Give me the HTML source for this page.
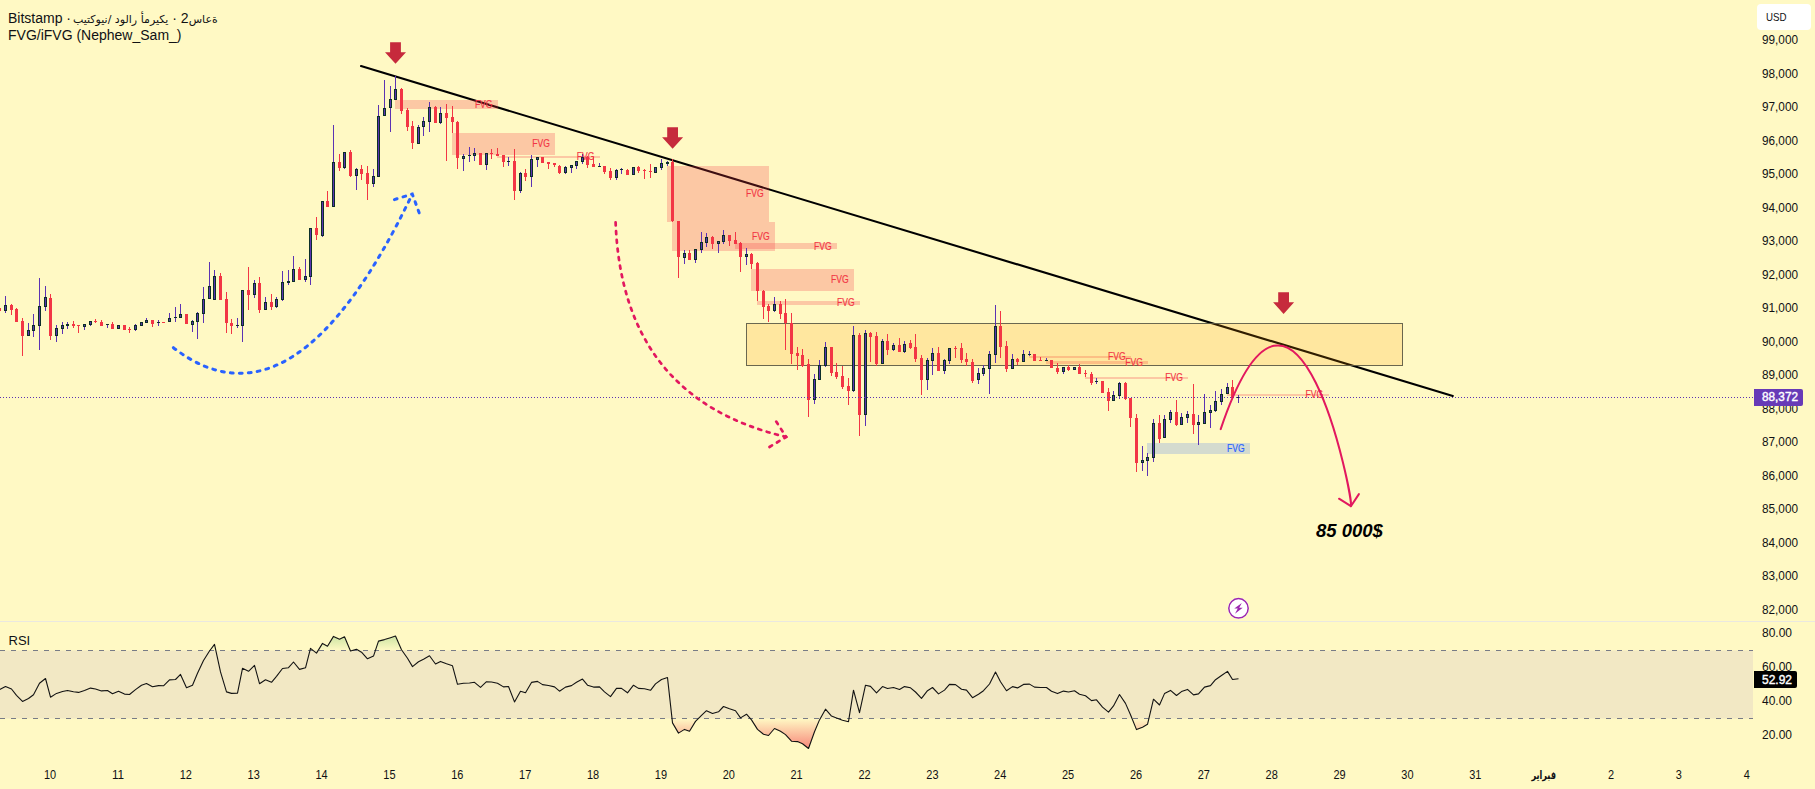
<!DOCTYPE html>
<html lang="en"><head><meta charset="utf-8"><title>Chart</title>
<style>html,body{margin:0;padding:0;background:#fff9c4;overflow:hidden}body{width:1815px;height:789px;position:relative;font-family:"Liberation Sans","DejaVu Sans",sans-serif}.ttl{position:absolute;left:8px;font-size:14px;line-height:17px;height:17px;color:#101114;white-space:nowrap}.ar{unicode-bidi:bidi-override;direction:ltr;font-family:"DejaVu Sans",sans-serif;font-size:11px}</style>
</head><body>
<svg width="1815" height="789" viewBox="0 0 1815 789" style="display:block;position:absolute;left:0;top:0">
<defs>
<linearGradient id="gg" gradientUnits="userSpaceOnUse" x1="0" y1="599.5" x2="0" y2="650.5"><stop offset="0" stop-color="#4caf50" stop-opacity="1"/><stop offset="1" stop-color="#4caf50" stop-opacity="0"/></linearGradient>
<linearGradient id="rg" gradientUnits="userSpaceOnUse" x1="0" y1="718.5" x2="0" y2="769.5"><stop offset="0" stop-color="#f23645" stop-opacity="0"/><stop offset="1" stop-color="#f23645" stop-opacity="1"/></linearGradient>
<clipPath id="pane"><rect x="0" y="0" width="1753" height="621"/></clipPath>
</defs>
<rect width="1815" height="789" fill="#fff9c4"/>
<g clip-path="url(#pane)">
<line x1="361" y1="66.1" x2="1452.8" y2="395.9" stroke="#000" stroke-width="2.1" stroke-linecap="round"/>
<g shape-rendering="crispEdges">
<rect x="395.2" y="100.0" width="102.6" height="9.0" fill="#f23645" fill-opacity="0.25"/>
<rect x="452.2" y="133.3" width="102.8" height="21.2" fill="#f23645" fill-opacity="0.25"/>
<rect x="497.3" y="155.9" width="102.6" height="1.9" fill="#f23645" fill-opacity="0.25"/>
<rect x="667.1" y="166.1" width="101.9" height="55.6" fill="#f23645" fill-opacity="0.25"/>
<rect x="672.1" y="221.7" width="102.9" height="29.0" fill="#f23645" fill-opacity="0.25"/>
<rect x="735.2" y="243.2" width="101.8" height="5.5" fill="#f23645" fill-opacity="0.25"/>
<rect x="751.1" y="269.0" width="103.0" height="21.8" fill="#f23645" fill-opacity="0.25"/>
<rect x="757.1" y="301.1" width="103.0" height="3.5" fill="#f23645" fill-opacity="0.25"/>
<rect x="1029.0" y="356.1" width="102.1" height="1.7" fill="#f23645" fill-opacity="0.25"/>
<rect x="1046.1" y="361.4" width="101.9" height="2.3" fill="#f23645" fill-opacity="0.25"/>
<rect x="1085.2" y="377.0" width="102.7" height="1.7" fill="#f23645" fill-opacity="0.25"/>
<rect x="1227.1" y="394.1" width="101.9" height="1.7" fill="#f23645" fill-opacity="0.25"/>
<rect x="1147" y="443" width="103" height="11" fill="#2962ff" fill-opacity="0.2"/>
</g>
<rect x="746.5" y="323.5" width="656" height="42" fill="#ff9800" fill-opacity="0.19" stroke="#5a5844" stroke-opacity="0.9" stroke-width="1" shape-rendering="crispEdges"/>
<g shape-rendering="crispEdges">
<rect x="-1" y="308" width="1" height="3" fill="#f23645"/>
<rect x="-2" y="308" width="3" height="3" fill="#f23645"/>
<rect x="5" y="296" width="1" height="17" fill="#5b33b3"/>
<rect x="4" y="305" width="3" height="6" fill="#0c2f2a"/>
<rect x="5" y="306" width="1" height="4" fill="#5a34b0"/>
<rect x="11" y="304" width="1" height="11" fill="#f23645"/>
<rect x="10" y="305" width="3" height="5" fill="#f23645"/>
<rect x="16" y="308" width="1" height="14" fill="#f23645"/>
<rect x="15" y="309" width="3" height="13" fill="#f23645"/>
<rect x="22" y="318" width="1" height="38" fill="#f23645"/>
<rect x="21" y="321" width="3" height="15" fill="#f23645"/>
<rect x="28" y="323" width="1" height="13" fill="#5b33b3"/>
<rect x="27" y="330" width="3" height="6" fill="#0c2f2a"/>
<rect x="28" y="331" width="1" height="4" fill="#5a34b0"/>
<rect x="33" y="314" width="1" height="23" fill="#5b33b3"/>
<rect x="32" y="325" width="3" height="6" fill="#0c2f2a"/>
<rect x="33" y="326" width="1" height="4" fill="#5a34b0"/>
<rect x="39" y="278" width="1" height="72" fill="#5b33b3"/>
<rect x="38" y="306" width="3" height="20" fill="#0c2f2a"/>
<rect x="39" y="307" width="1" height="18" fill="#5a34b0"/>
<rect x="45" y="286" width="1" height="25" fill="#5b33b3"/>
<rect x="44" y="297" width="3" height="10" fill="#0c2f2a"/>
<rect x="45" y="298" width="1" height="8" fill="#5a34b0"/>
<rect x="50" y="294" width="1" height="46" fill="#f23645"/>
<rect x="49" y="298" width="3" height="38" fill="#f23645"/>
<rect x="56" y="325" width="1" height="17" fill="#5b33b3"/>
<rect x="55" y="328" width="3" height="8" fill="#0c2f2a"/>
<rect x="56" y="329" width="1" height="6" fill="#5a34b0"/>
<rect x="62" y="322" width="1" height="12" fill="#5b33b3"/>
<rect x="61" y="325" width="3" height="4" fill="#0c2f2a"/>
<rect x="62" y="326" width="1" height="2" fill="#5a34b0"/>
<rect x="67" y="322" width="1" height="7" fill="#5b33b3"/>
<rect x="66" y="324" width="3" height="2" fill="#0c2f2a"/>
<rect x="73" y="321" width="1" height="7" fill="#f23645"/>
<rect x="72" y="324" width="3" height="2" fill="#f23645"/>
<rect x="78" y="325" width="1" height="8" fill="#f23645"/>
<rect x="77" y="325" width="3" height="1" fill="#f23645"/>
<rect x="84" y="324" width="1" height="6" fill="#5b33b3"/>
<rect x="83" y="324" width="3" height="3" fill="#0c2f2a"/>
<rect x="84" y="325" width="1" height="1" fill="#5a34b0"/>
<rect x="90" y="321" width="1" height="5" fill="#5b33b3"/>
<rect x="89" y="321" width="3" height="4" fill="#0c2f2a"/>
<rect x="90" y="322" width="1" height="2" fill="#5a34b0"/>
<rect x="95" y="319" width="1" height="4" fill="#f23645"/>
<rect x="94" y="321" width="3" height="1" fill="#f23645"/>
<rect x="101" y="320" width="1" height="6" fill="#f23645"/>
<rect x="100" y="322" width="3" height="4" fill="#f23645"/>
<rect x="107" y="324" width="1" height="4" fill="#5b33b3"/>
<rect x="106" y="324" width="3" height="1" fill="#0c2f2a"/>
<rect x="112" y="322" width="1" height="7" fill="#f23645"/>
<rect x="111" y="324" width="3" height="5" fill="#f23645"/>
<rect x="118" y="325" width="1" height="4" fill="#5b33b3"/>
<rect x="117" y="325" width="3" height="4" fill="#0c2f2a"/>
<rect x="118" y="326" width="1" height="2" fill="#5a34b0"/>
<rect x="124" y="325" width="1" height="5" fill="#f23645"/>
<rect x="123" y="325" width="3" height="5" fill="#f23645"/>
<rect x="129" y="327" width="1" height="6" fill="#f23645"/>
<rect x="128" y="329" width="3" height="1" fill="#f23645"/>
<rect x="135" y="324" width="1" height="7" fill="#5b33b3"/>
<rect x="134" y="325" width="3" height="5" fill="#0c2f2a"/>
<rect x="135" y="326" width="1" height="3" fill="#5a34b0"/>
<rect x="141" y="322" width="1" height="4" fill="#5b33b3"/>
<rect x="140" y="322" width="3" height="4" fill="#0c2f2a"/>
<rect x="141" y="323" width="1" height="2" fill="#5a34b0"/>
<rect x="146" y="318" width="1" height="5" fill="#5b33b3"/>
<rect x="145" y="320" width="3" height="3" fill="#0c2f2a"/>
<rect x="146" y="321" width="1" height="1" fill="#5a34b0"/>
<rect x="152" y="320" width="1" height="7" fill="#f23645"/>
<rect x="151" y="320" width="3" height="4" fill="#f23645"/>
<rect x="158" y="320" width="1" height="6" fill="#5b33b3"/>
<rect x="157" y="322" width="3" height="1" fill="#0c2f2a"/>
<rect x="163" y="322" width="1" height="1" fill="#f23645"/>
<rect x="162" y="322" width="3" height="1" fill="#f23645"/>
<rect x="169" y="313" width="1" height="9" fill="#5b33b3"/>
<rect x="168" y="318" width="3" height="4" fill="#0c2f2a"/>
<rect x="169" y="319" width="1" height="2" fill="#5a34b0"/>
<rect x="175" y="307" width="1" height="15" fill="#5b33b3"/>
<rect x="174" y="317" width="3" height="1" fill="#0c2f2a"/>
<rect x="180" y="304" width="1" height="14" fill="#5b33b3"/>
<rect x="179" y="314" width="3" height="4" fill="#0c2f2a"/>
<rect x="180" y="315" width="1" height="2" fill="#5a34b0"/>
<rect x="186" y="314" width="1" height="10" fill="#f23645"/>
<rect x="185" y="314" width="3" height="10" fill="#f23645"/>
<rect x="192" y="320" width="1" height="12" fill="#5b33b3"/>
<rect x="191" y="321" width="3" height="4" fill="#0c2f2a"/>
<rect x="192" y="322" width="1" height="2" fill="#5a34b0"/>
<rect x="197" y="312" width="1" height="27" fill="#5b33b3"/>
<rect x="196" y="313" width="3" height="9" fill="#0c2f2a"/>
<rect x="197" y="314" width="1" height="7" fill="#5a34b0"/>
<rect x="203" y="287" width="1" height="36" fill="#5b33b3"/>
<rect x="202" y="299" width="3" height="15" fill="#0c2f2a"/>
<rect x="203" y="300" width="1" height="13" fill="#5a34b0"/>
<rect x="209" y="262" width="1" height="37" fill="#5b33b3"/>
<rect x="208" y="286" width="3" height="13" fill="#0c2f2a"/>
<rect x="209" y="287" width="1" height="11" fill="#5a34b0"/>
<rect x="214" y="270" width="1" height="30" fill="#5b33b3"/>
<rect x="213" y="276" width="3" height="24" fill="#0c2f2a"/>
<rect x="214" y="277" width="1" height="22" fill="#5a34b0"/>
<rect x="220" y="273" width="1" height="27" fill="#f23645"/>
<rect x="219" y="276" width="3" height="24" fill="#f23645"/>
<rect x="226" y="292" width="1" height="41" fill="#f23645"/>
<rect x="225" y="299" width="3" height="24" fill="#f23645"/>
<rect x="231" y="319" width="1" height="15" fill="#f23645"/>
<rect x="230" y="323" width="3" height="3" fill="#f23645"/>
<rect x="237" y="318" width="1" height="10" fill="#5b33b3"/>
<rect x="236" y="325" width="3" height="1" fill="#0c2f2a"/>
<rect x="242" y="290" width="1" height="52" fill="#5b33b3"/>
<rect x="241" y="290" width="3" height="36" fill="#0c2f2a"/>
<rect x="242" y="291" width="1" height="34" fill="#5a34b0"/>
<rect x="248" y="267" width="1" height="43" fill="#f23645"/>
<rect x="247" y="290" width="3" height="5" fill="#f23645"/>
<rect x="254" y="280" width="1" height="18" fill="#5b33b3"/>
<rect x="253" y="283" width="3" height="12" fill="#0c2f2a"/>
<rect x="254" y="284" width="1" height="10" fill="#5a34b0"/>
<rect x="259" y="277" width="1" height="36" fill="#f23645"/>
<rect x="258" y="283" width="3" height="27" fill="#f23645"/>
<rect x="265" y="297" width="1" height="13" fill="#5b33b3"/>
<rect x="264" y="302" width="3" height="8" fill="#0c2f2a"/>
<rect x="265" y="303" width="1" height="6" fill="#5a34b0"/>
<rect x="271" y="294" width="1" height="16" fill="#f23645"/>
<rect x="270" y="302" width="3" height="5" fill="#f23645"/>
<rect x="276" y="297" width="1" height="11" fill="#5b33b3"/>
<rect x="275" y="299" width="3" height="8" fill="#0c2f2a"/>
<rect x="276" y="300" width="1" height="6" fill="#5a34b0"/>
<rect x="282" y="271" width="1" height="30" fill="#5b33b3"/>
<rect x="281" y="282" width="3" height="18" fill="#0c2f2a"/>
<rect x="282" y="283" width="1" height="16" fill="#5a34b0"/>
<rect x="288" y="270" width="1" height="15" fill="#5b33b3"/>
<rect x="287" y="281" width="3" height="2" fill="#0c2f2a"/>
<rect x="293" y="256" width="1" height="26" fill="#5b33b3"/>
<rect x="292" y="269" width="3" height="13" fill="#0c2f2a"/>
<rect x="293" y="270" width="1" height="11" fill="#5a34b0"/>
<rect x="299" y="267" width="1" height="13" fill="#f23645"/>
<rect x="298" y="269" width="3" height="11" fill="#f23645"/>
<rect x="305" y="259" width="1" height="23" fill="#5b33b3"/>
<rect x="304" y="276" width="3" height="4" fill="#0c2f2a"/>
<rect x="305" y="277" width="1" height="2" fill="#5a34b0"/>
<rect x="310" y="228" width="1" height="57" fill="#5b33b3"/>
<rect x="309" y="228" width="3" height="49" fill="#0c2f2a"/>
<rect x="310" y="229" width="1" height="47" fill="#5a34b0"/>
<rect x="316" y="217" width="1" height="23" fill="#f23645"/>
<rect x="315" y="228" width="3" height="7" fill="#f23645"/>
<rect x="322" y="201" width="1" height="36" fill="#5b33b3"/>
<rect x="321" y="201" width="3" height="35" fill="#0c2f2a"/>
<rect x="322" y="202" width="1" height="33" fill="#5a34b0"/>
<rect x="327" y="191" width="1" height="16" fill="#f23645"/>
<rect x="326" y="201" width="3" height="6" fill="#f23645"/>
<rect x="333" y="125" width="1" height="82" fill="#5b33b3"/>
<rect x="332" y="162" width="3" height="45" fill="#0c2f2a"/>
<rect x="333" y="163" width="1" height="43" fill="#5a34b0"/>
<rect x="339" y="154" width="1" height="17" fill="#f23645"/>
<rect x="338" y="162" width="3" height="6" fill="#f23645"/>
<rect x="344" y="152" width="1" height="17" fill="#5b33b3"/>
<rect x="343" y="152" width="3" height="16" fill="#0c2f2a"/>
<rect x="344" y="153" width="1" height="14" fill="#5a34b0"/>
<rect x="350" y="150" width="1" height="27" fill="#f23645"/>
<rect x="349" y="152" width="3" height="24" fill="#f23645"/>
<rect x="356" y="168" width="1" height="22" fill="#5b33b3"/>
<rect x="355" y="169" width="3" height="7" fill="#0c2f2a"/>
<rect x="356" y="170" width="1" height="5" fill="#5a34b0"/>
<rect x="361" y="165" width="1" height="15" fill="#f23645"/>
<rect x="360" y="169" width="3" height="5" fill="#f23645"/>
<rect x="367" y="166" width="1" height="34" fill="#f23645"/>
<rect x="366" y="173" width="3" height="11" fill="#f23645"/>
<rect x="373" y="169" width="1" height="18" fill="#5b33b3"/>
<rect x="372" y="176" width="3" height="8" fill="#0c2f2a"/>
<rect x="373" y="177" width="1" height="6" fill="#5a34b0"/>
<rect x="378" y="105" width="1" height="72" fill="#5b33b3"/>
<rect x="377" y="116" width="3" height="61" fill="#0c2f2a"/>
<rect x="378" y="117" width="1" height="59" fill="#5a34b0"/>
<rect x="384" y="80" width="1" height="36" fill="#5b33b3"/>
<rect x="383" y="108" width="3" height="8" fill="#0c2f2a"/>
<rect x="384" y="109" width="1" height="6" fill="#5a34b0"/>
<rect x="390" y="86" width="1" height="46" fill="#5b33b3"/>
<rect x="389" y="99" width="3" height="9" fill="#0c2f2a"/>
<rect x="390" y="100" width="1" height="7" fill="#5a34b0"/>
<rect x="395" y="76" width="1" height="24" fill="#5b33b3"/>
<rect x="394" y="89" width="3" height="11" fill="#0c2f2a"/>
<rect x="395" y="90" width="1" height="9" fill="#5a34b0"/>
<rect x="401" y="88" width="1" height="26" fill="#f23645"/>
<rect x="400" y="89" width="3" height="22" fill="#f23645"/>
<rect x="407" y="108" width="1" height="23" fill="#f23645"/>
<rect x="406" y="110" width="3" height="17" fill="#f23645"/>
<rect x="412" y="121" width="1" height="28" fill="#f23645"/>
<rect x="411" y="126" width="3" height="17" fill="#f23645"/>
<rect x="418" y="125" width="1" height="19" fill="#5b33b3"/>
<rect x="417" y="127" width="3" height="17" fill="#0c2f2a"/>
<rect x="418" y="128" width="1" height="15" fill="#5a34b0"/>
<rect x="423" y="117" width="1" height="19" fill="#5b33b3"/>
<rect x="422" y="121" width="3" height="6" fill="#0c2f2a"/>
<rect x="423" y="122" width="1" height="4" fill="#5a34b0"/>
<rect x="429" y="102" width="1" height="30" fill="#5b33b3"/>
<rect x="428" y="107" width="3" height="15" fill="#0c2f2a"/>
<rect x="429" y="108" width="1" height="13" fill="#5a34b0"/>
<rect x="435" y="106" width="1" height="17" fill="#f23645"/>
<rect x="434" y="107" width="3" height="16" fill="#f23645"/>
<rect x="440" y="107" width="1" height="17" fill="#5b33b3"/>
<rect x="439" y="113" width="3" height="10" fill="#0c2f2a"/>
<rect x="440" y="114" width="1" height="8" fill="#5a34b0"/>
<rect x="446" y="104" width="1" height="57" fill="#f23645"/>
<rect x="445" y="113" width="3" height="5" fill="#f23645"/>
<rect x="452" y="106" width="1" height="27" fill="#f23645"/>
<rect x="451" y="117" width="3" height="5" fill="#f23645"/>
<rect x="457" y="121" width="1" height="48" fill="#f23645"/>
<rect x="456" y="122" width="3" height="36" fill="#f23645"/>
<rect x="463" y="154" width="1" height="17" fill="#5b33b3"/>
<rect x="462" y="156" width="3" height="3" fill="#0c2f2a"/>
<rect x="463" y="157" width="1" height="1" fill="#5a34b0"/>
<rect x="469" y="147" width="1" height="15" fill="#5b33b3"/>
<rect x="468" y="155" width="3" height="1" fill="#0c2f2a"/>
<rect x="474" y="148" width="1" height="13" fill="#5b33b3"/>
<rect x="473" y="153" width="3" height="3" fill="#0c2f2a"/>
<rect x="474" y="154" width="1" height="1" fill="#5a34b0"/>
<rect x="480" y="153" width="1" height="12" fill="#f23645"/>
<rect x="479" y="153" width="3" height="12" fill="#f23645"/>
<rect x="486" y="153" width="1" height="17" fill="#5b33b3"/>
<rect x="485" y="153" width="3" height="12" fill="#0c2f2a"/>
<rect x="486" y="154" width="1" height="10" fill="#5a34b0"/>
<rect x="491" y="149" width="1" height="10" fill="#f23645"/>
<rect x="490" y="153" width="3" height="1" fill="#f23645"/>
<rect x="497" y="148" width="1" height="8" fill="#f23645"/>
<rect x="496" y="154" width="3" height="2" fill="#f23645"/>
<rect x="503" y="155" width="1" height="12" fill="#f23645"/>
<rect x="502" y="155" width="3" height="7" fill="#f23645"/>
<rect x="508" y="157" width="1" height="9" fill="#5b33b3"/>
<rect x="507" y="161" width="3" height="1" fill="#0c2f2a"/>
<rect x="514" y="149" width="1" height="51" fill="#f23645"/>
<rect x="513" y="161" width="3" height="30" fill="#f23645"/>
<rect x="520" y="172" width="1" height="21" fill="#5b33b3"/>
<rect x="519" y="173" width="3" height="18" fill="#0c2f2a"/>
<rect x="520" y="174" width="1" height="16" fill="#5a34b0"/>
<rect x="525" y="169" width="1" height="12" fill="#f23645"/>
<rect x="524" y="173" width="3" height="4" fill="#f23645"/>
<rect x="531" y="155" width="1" height="32" fill="#5b33b3"/>
<rect x="530" y="159" width="3" height="18" fill="#0c2f2a"/>
<rect x="531" y="160" width="1" height="16" fill="#5a34b0"/>
<rect x="537" y="157" width="1" height="10" fill="#5b33b3"/>
<rect x="536" y="157" width="3" height="3" fill="#0c2f2a"/>
<rect x="537" y="158" width="1" height="1" fill="#5a34b0"/>
<rect x="542" y="157" width="1" height="6" fill="#f23645"/>
<rect x="541" y="157" width="3" height="6" fill="#f23645"/>
<rect x="548" y="162" width="1" height="7" fill="#f23645"/>
<rect x="547" y="162" width="3" height="2" fill="#f23645"/>
<rect x="554" y="163" width="1" height="4" fill="#f23645"/>
<rect x="553" y="163" width="3" height="2" fill="#f23645"/>
<rect x="559" y="165" width="1" height="9" fill="#f23645"/>
<rect x="558" y="166" width="3" height="7" fill="#f23645"/>
<rect x="565" y="166" width="1" height="8" fill="#5b33b3"/>
<rect x="564" y="167" width="3" height="6" fill="#0c2f2a"/>
<rect x="565" y="168" width="1" height="4" fill="#5a34b0"/>
<rect x="571" y="165" width="1" height="8" fill="#5b33b3"/>
<rect x="570" y="165" width="3" height="3" fill="#0c2f2a"/>
<rect x="571" y="166" width="1" height="1" fill="#5a34b0"/>
<rect x="576" y="161" width="1" height="8" fill="#5b33b3"/>
<rect x="575" y="161" width="3" height="5" fill="#0c2f2a"/>
<rect x="576" y="162" width="1" height="3" fill="#5a34b0"/>
<rect x="582" y="154" width="1" height="10" fill="#5b33b3"/>
<rect x="581" y="157" width="3" height="5" fill="#0c2f2a"/>
<rect x="582" y="158" width="1" height="3" fill="#5a34b0"/>
<rect x="587" y="156" width="1" height="12" fill="#f23645"/>
<rect x="586" y="157" width="3" height="8" fill="#f23645"/>
<rect x="593" y="157" width="1" height="10" fill="#f23645"/>
<rect x="592" y="164" width="3" height="3" fill="#f23645"/>
<rect x="599" y="163" width="1" height="4" fill="#5b33b3"/>
<rect x="598" y="166" width="3" height="1" fill="#0c2f2a"/>
<rect x="604" y="166" width="1" height="8" fill="#f23645"/>
<rect x="603" y="166" width="3" height="6" fill="#f23645"/>
<rect x="610" y="168" width="1" height="12" fill="#f23645"/>
<rect x="609" y="171" width="3" height="7" fill="#f23645"/>
<rect x="616" y="169" width="1" height="11" fill="#5b33b3"/>
<rect x="615" y="170" width="3" height="8" fill="#0c2f2a"/>
<rect x="616" y="171" width="1" height="6" fill="#5a34b0"/>
<rect x="621" y="168" width="1" height="6" fill="#5b33b3"/>
<rect x="620" y="169" width="3" height="1" fill="#0c2f2a"/>
<rect x="627" y="169" width="1" height="6" fill="#f23645"/>
<rect x="626" y="170" width="3" height="5" fill="#f23645"/>
<rect x="633" y="167" width="1" height="8" fill="#5b33b3"/>
<rect x="632" y="167" width="3" height="8" fill="#0c2f2a"/>
<rect x="633" y="168" width="1" height="6" fill="#5a34b0"/>
<rect x="638" y="166" width="1" height="7" fill="#f23645"/>
<rect x="637" y="167" width="3" height="4" fill="#f23645"/>
<rect x="644" y="169" width="1" height="10" fill="#f23645"/>
<rect x="643" y="170" width="3" height="1" fill="#f23645"/>
<rect x="650" y="164" width="1" height="14" fill="#f23645"/>
<rect x="649" y="171" width="3" height="1" fill="#f23645"/>
<rect x="655" y="167" width="1" height="6" fill="#5b33b3"/>
<rect x="654" y="167" width="3" height="6" fill="#0c2f2a"/>
<rect x="655" y="168" width="1" height="4" fill="#5a34b0"/>
<rect x="661" y="159" width="1" height="11" fill="#5b33b3"/>
<rect x="660" y="163" width="3" height="5" fill="#0c2f2a"/>
<rect x="661" y="164" width="1" height="3" fill="#5a34b0"/>
<rect x="667" y="161" width="1" height="5" fill="#5b33b3"/>
<rect x="666" y="162" width="3" height="2" fill="#0c2f2a"/>
<rect x="672" y="159" width="1" height="63" fill="#f23645"/>
<rect x="671" y="162" width="3" height="59" fill="#f23645"/>
<rect x="678" y="221" width="1" height="57" fill="#f23645"/>
<rect x="677" y="221" width="3" height="36" fill="#f23645"/>
<rect x="684" y="250" width="1" height="14" fill="#5b33b3"/>
<rect x="683" y="253" width="3" height="5" fill="#0c2f2a"/>
<rect x="684" y="254" width="1" height="3" fill="#5a34b0"/>
<rect x="689" y="250" width="1" height="10" fill="#f23645"/>
<rect x="688" y="253" width="3" height="7" fill="#f23645"/>
<rect x="695" y="249" width="1" height="14" fill="#5b33b3"/>
<rect x="694" y="249" width="3" height="11" fill="#0c2f2a"/>
<rect x="695" y="250" width="1" height="9" fill="#5a34b0"/>
<rect x="701" y="232" width="1" height="21" fill="#5b33b3"/>
<rect x="700" y="242" width="3" height="8" fill="#0c2f2a"/>
<rect x="701" y="243" width="1" height="6" fill="#5a34b0"/>
<rect x="706" y="233" width="1" height="14" fill="#5b33b3"/>
<rect x="705" y="237" width="3" height="6" fill="#0c2f2a"/>
<rect x="706" y="238" width="1" height="4" fill="#5a34b0"/>
<rect x="712" y="236" width="1" height="13" fill="#f23645"/>
<rect x="711" y="237" width="3" height="7" fill="#f23645"/>
<rect x="718" y="241" width="1" height="12" fill="#5b33b3"/>
<rect x="717" y="241" width="3" height="3" fill="#0c2f2a"/>
<rect x="718" y="242" width="1" height="1" fill="#5a34b0"/>
<rect x="723" y="230" width="1" height="14" fill="#5b33b3"/>
<rect x="722" y="235" width="3" height="7" fill="#0c2f2a"/>
<rect x="723" y="236" width="1" height="5" fill="#5a34b0"/>
<rect x="729" y="235" width="1" height="11" fill="#f23645"/>
<rect x="728" y="235" width="3" height="6" fill="#f23645"/>
<rect x="735" y="232" width="1" height="12" fill="#f23645"/>
<rect x="734" y="240" width="3" height="4" fill="#f23645"/>
<rect x="740" y="242" width="1" height="30" fill="#f23645"/>
<rect x="739" y="243" width="3" height="14" fill="#f23645"/>
<rect x="746" y="248" width="1" height="17" fill="#5b33b3"/>
<rect x="745" y="254" width="3" height="3" fill="#0c2f2a"/>
<rect x="746" y="255" width="1" height="1" fill="#5a34b0"/>
<rect x="751" y="253" width="1" height="16" fill="#f23645"/>
<rect x="750" y="254" width="3" height="10" fill="#f23645"/>
<rect x="757" y="262" width="1" height="39" fill="#f23645"/>
<rect x="756" y="263" width="3" height="28" fill="#f23645"/>
<rect x="763" y="290" width="1" height="29" fill="#f23645"/>
<rect x="762" y="291" width="3" height="16" fill="#f23645"/>
<rect x="768" y="304" width="1" height="18" fill="#f23645"/>
<rect x="767" y="306" width="3" height="5" fill="#f23645"/>
<rect x="774" y="297" width="1" height="15" fill="#5b33b3"/>
<rect x="773" y="304" width="3" height="7" fill="#0c2f2a"/>
<rect x="774" y="305" width="1" height="5" fill="#5a34b0"/>
<rect x="780" y="301" width="1" height="18" fill="#f23645"/>
<rect x="779" y="304" width="3" height="10" fill="#f23645"/>
<rect x="785" y="299" width="1" height="51" fill="#f23645"/>
<rect x="784" y="313" width="3" height="10" fill="#f23645"/>
<rect x="791" y="313" width="1" height="51" fill="#f23645"/>
<rect x="790" y="323" width="3" height="31" fill="#f23645"/>
<rect x="797" y="347" width="1" height="23" fill="#f23645"/>
<rect x="796" y="353" width="3" height="3" fill="#f23645"/>
<rect x="802" y="349" width="1" height="18" fill="#f23645"/>
<rect x="801" y="355" width="3" height="11" fill="#f23645"/>
<rect x="808" y="359" width="1" height="58" fill="#f23645"/>
<rect x="807" y="364" width="3" height="36" fill="#f23645"/>
<rect x="814" y="374" width="1" height="30" fill="#5b33b3"/>
<rect x="813" y="379" width="3" height="21" fill="#0c2f2a"/>
<rect x="814" y="380" width="1" height="19" fill="#5a34b0"/>
<rect x="819" y="360" width="1" height="20" fill="#5b33b3"/>
<rect x="818" y="365" width="3" height="15" fill="#0c2f2a"/>
<rect x="819" y="366" width="1" height="13" fill="#5a34b0"/>
<rect x="825" y="342" width="1" height="25" fill="#5b33b3"/>
<rect x="824" y="347" width="3" height="19" fill="#0c2f2a"/>
<rect x="825" y="348" width="1" height="17" fill="#5a34b0"/>
<rect x="831" y="347" width="1" height="29" fill="#f23645"/>
<rect x="830" y="347" width="3" height="26" fill="#f23645"/>
<rect x="836" y="363" width="1" height="16" fill="#f23645"/>
<rect x="835" y="372" width="3" height="5" fill="#f23645"/>
<rect x="842" y="366" width="1" height="23" fill="#f23645"/>
<rect x="841" y="376" width="3" height="11" fill="#f23645"/>
<rect x="848" y="378" width="1" height="27" fill="#f23645"/>
<rect x="847" y="386" width="3" height="5" fill="#f23645"/>
<rect x="853" y="326" width="1" height="66" fill="#5b33b3"/>
<rect x="852" y="335" width="3" height="56" fill="#0c2f2a"/>
<rect x="853" y="336" width="1" height="54" fill="#5a34b0"/>
<rect x="859" y="333" width="1" height="103" fill="#f23645"/>
<rect x="858" y="335" width="3" height="80" fill="#f23645"/>
<rect x="865" y="330" width="1" height="96" fill="#5b33b3"/>
<rect x="864" y="333" width="3" height="82" fill="#0c2f2a"/>
<rect x="865" y="334" width="1" height="80" fill="#5a34b0"/>
<rect x="870" y="332" width="1" height="30" fill="#f23645"/>
<rect x="869" y="333" width="3" height="4" fill="#f23645"/>
<rect x="876" y="332" width="1" height="34" fill="#f23645"/>
<rect x="875" y="336" width="3" height="28" fill="#f23645"/>
<rect x="882" y="339" width="1" height="25" fill="#5b33b3"/>
<rect x="881" y="341" width="3" height="23" fill="#0c2f2a"/>
<rect x="882" y="342" width="1" height="21" fill="#5a34b0"/>
<rect x="887" y="334" width="1" height="21" fill="#f23645"/>
<rect x="886" y="341" width="3" height="9" fill="#f23645"/>
<rect x="893" y="343" width="1" height="8" fill="#5b33b3"/>
<rect x="892" y="345" width="3" height="5" fill="#0c2f2a"/>
<rect x="893" y="346" width="1" height="3" fill="#5a34b0"/>
<rect x="899" y="338" width="1" height="14" fill="#f23645"/>
<rect x="898" y="345" width="3" height="7" fill="#f23645"/>
<rect x="904" y="341" width="1" height="12" fill="#5b33b3"/>
<rect x="903" y="344" width="3" height="8" fill="#0c2f2a"/>
<rect x="904" y="345" width="1" height="6" fill="#5a34b0"/>
<rect x="910" y="340" width="1" height="9" fill="#f23645"/>
<rect x="909" y="343" width="3" height="5" fill="#f23645"/>
<rect x="915" y="334" width="1" height="28" fill="#f23645"/>
<rect x="914" y="347" width="3" height="12" fill="#f23645"/>
<rect x="921" y="355" width="1" height="40" fill="#f23645"/>
<rect x="920" y="358" width="3" height="22" fill="#f23645"/>
<rect x="927" y="358" width="1" height="32" fill="#5b33b3"/>
<rect x="926" y="360" width="3" height="20" fill="#0c2f2a"/>
<rect x="927" y="361" width="1" height="18" fill="#5a34b0"/>
<rect x="932" y="348" width="1" height="27" fill="#5b33b3"/>
<rect x="931" y="353" width="3" height="8" fill="#0c2f2a"/>
<rect x="932" y="354" width="1" height="6" fill="#5a34b0"/>
<rect x="938" y="347" width="1" height="24" fill="#f23645"/>
<rect x="937" y="353" width="3" height="18" fill="#f23645"/>
<rect x="944" y="359" width="1" height="15" fill="#5b33b3"/>
<rect x="943" y="360" width="3" height="11" fill="#0c2f2a"/>
<rect x="944" y="361" width="1" height="9" fill="#5a34b0"/>
<rect x="949" y="348" width="1" height="16" fill="#5b33b3"/>
<rect x="948" y="348" width="3" height="13" fill="#0c2f2a"/>
<rect x="949" y="349" width="1" height="11" fill="#5a34b0"/>
<rect x="955" y="346" width="1" height="12" fill="#f23645"/>
<rect x="954" y="348" width="3" height="1" fill="#f23645"/>
<rect x="961" y="343" width="1" height="20" fill="#f23645"/>
<rect x="960" y="348" width="3" height="12" fill="#f23645"/>
<rect x="966" y="353" width="1" height="13" fill="#f23645"/>
<rect x="965" y="359" width="3" height="3" fill="#f23645"/>
<rect x="972" y="359" width="1" height="24" fill="#f23645"/>
<rect x="971" y="362" width="3" height="19" fill="#f23645"/>
<rect x="978" y="368" width="1" height="16" fill="#5b33b3"/>
<rect x="977" y="373" width="3" height="7" fill="#0c2f2a"/>
<rect x="978" y="374" width="1" height="5" fill="#5a34b0"/>
<rect x="983" y="365" width="1" height="11" fill="#5b33b3"/>
<rect x="982" y="368" width="3" height="6" fill="#0c2f2a"/>
<rect x="983" y="369" width="1" height="4" fill="#5a34b0"/>
<rect x="989" y="351" width="1" height="43" fill="#5b33b3"/>
<rect x="988" y="354" width="3" height="15" fill="#0c2f2a"/>
<rect x="989" y="355" width="1" height="13" fill="#5a34b0"/>
<rect x="995" y="305" width="1" height="58" fill="#5b33b3"/>
<rect x="994" y="326" width="3" height="29" fill="#0c2f2a"/>
<rect x="995" y="327" width="1" height="27" fill="#5a34b0"/>
<rect x="1000" y="311" width="1" height="47" fill="#f23645"/>
<rect x="999" y="326" width="3" height="21" fill="#f23645"/>
<rect x="1006" y="341" width="1" height="31" fill="#f23645"/>
<rect x="1005" y="346" width="3" height="23" fill="#f23645"/>
<rect x="1012" y="354" width="1" height="15" fill="#5b33b3"/>
<rect x="1011" y="359" width="3" height="10" fill="#0c2f2a"/>
<rect x="1012" y="360" width="1" height="8" fill="#5a34b0"/>
<rect x="1017" y="358" width="1" height="7" fill="#f23645"/>
<rect x="1016" y="359" width="3" height="3" fill="#f23645"/>
<rect x="1023" y="350" width="1" height="12" fill="#5b33b3"/>
<rect x="1022" y="354" width="3" height="8" fill="#0c2f2a"/>
<rect x="1023" y="355" width="1" height="6" fill="#5a34b0"/>
<rect x="1029" y="351" width="1" height="5" fill="#5b33b3"/>
<rect x="1028" y="354" width="3" height="1" fill="#0c2f2a"/>
<rect x="1034" y="354" width="1" height="7" fill="#f23645"/>
<rect x="1033" y="354" width="3" height="7" fill="#f23645"/>
<rect x="1040" y="357" width="1" height="4" fill="#f23645"/>
<rect x="1039" y="360" width="3" height="1" fill="#f23645"/>
<rect x="1046" y="358" width="1" height="3" fill="#5b33b3"/>
<rect x="1045" y="360" width="3" height="1" fill="#0c2f2a"/>
<rect x="1051" y="360" width="1" height="8" fill="#f23645"/>
<rect x="1050" y="360" width="3" height="8" fill="#f23645"/>
<rect x="1057" y="363" width="1" height="11" fill="#f23645"/>
<rect x="1056" y="368" width="3" height="4" fill="#f23645"/>
<rect x="1063" y="367" width="1" height="7" fill="#5b33b3"/>
<rect x="1062" y="367" width="3" height="5" fill="#0c2f2a"/>
<rect x="1063" y="368" width="1" height="3" fill="#5a34b0"/>
<rect x="1068" y="365" width="1" height="6" fill="#f23645"/>
<rect x="1067" y="367" width="3" height="3" fill="#f23645"/>
<rect x="1074" y="367" width="1" height="3" fill="#5b33b3"/>
<rect x="1073" y="367" width="3" height="3" fill="#0c2f2a"/>
<rect x="1074" y="368" width="1" height="1" fill="#5a34b0"/>
<rect x="1079" y="364" width="1" height="10" fill="#f23645"/>
<rect x="1078" y="367" width="3" height="7" fill="#f23645"/>
<rect x="1085" y="370" width="1" height="7" fill="#f23645"/>
<rect x="1084" y="373" width="3" height="1" fill="#f23645"/>
<rect x="1091" y="372" width="1" height="13" fill="#f23645"/>
<rect x="1090" y="374" width="3" height="9" fill="#f23645"/>
<rect x="1096" y="378" width="1" height="6" fill="#5b33b3"/>
<rect x="1095" y="381" width="3" height="1" fill="#0c2f2a"/>
<rect x="1102" y="381" width="1" height="12" fill="#f23645"/>
<rect x="1101" y="381" width="3" height="12" fill="#f23645"/>
<rect x="1108" y="388" width="1" height="23" fill="#f23645"/>
<rect x="1107" y="392" width="3" height="9" fill="#f23645"/>
<rect x="1113" y="391" width="1" height="10" fill="#5b33b3"/>
<rect x="1112" y="395" width="3" height="6" fill="#0c2f2a"/>
<rect x="1113" y="396" width="1" height="4" fill="#5a34b0"/>
<rect x="1119" y="382" width="1" height="17" fill="#5b33b3"/>
<rect x="1118" y="383" width="3" height="13" fill="#0c2f2a"/>
<rect x="1119" y="384" width="1" height="11" fill="#5a34b0"/>
<rect x="1125" y="382" width="1" height="18" fill="#f23645"/>
<rect x="1124" y="383" width="3" height="16" fill="#f23645"/>
<rect x="1130" y="398" width="1" height="29" fill="#f23645"/>
<rect x="1129" y="398" width="3" height="20" fill="#f23645"/>
<rect x="1136" y="414" width="1" height="58" fill="#f23645"/>
<rect x="1135" y="418" width="3" height="45" fill="#f23645"/>
<rect x="1142" y="446" width="1" height="25" fill="#5b33b3"/>
<rect x="1141" y="460" width="3" height="3" fill="#0c2f2a"/>
<rect x="1142" y="461" width="1" height="1" fill="#5a34b0"/>
<rect x="1147" y="453" width="1" height="23" fill="#5b33b3"/>
<rect x="1146" y="457" width="3" height="4" fill="#0c2f2a"/>
<rect x="1147" y="458" width="1" height="2" fill="#5a34b0"/>
<rect x="1153" y="419" width="1" height="43" fill="#5b33b3"/>
<rect x="1152" y="423" width="3" height="35" fill="#0c2f2a"/>
<rect x="1153" y="424" width="1" height="33" fill="#5a34b0"/>
<rect x="1159" y="415" width="1" height="28" fill="#f23645"/>
<rect x="1158" y="423" width="3" height="16" fill="#f23645"/>
<rect x="1164" y="415" width="1" height="23" fill="#5b33b3"/>
<rect x="1163" y="419" width="3" height="19" fill="#0c2f2a"/>
<rect x="1164" y="420" width="1" height="17" fill="#5a34b0"/>
<rect x="1170" y="410" width="1" height="13" fill="#5b33b3"/>
<rect x="1169" y="412" width="3" height="8" fill="#0c2f2a"/>
<rect x="1170" y="413" width="1" height="6" fill="#5a34b0"/>
<rect x="1176" y="400" width="1" height="26" fill="#f23645"/>
<rect x="1175" y="412" width="3" height="13" fill="#f23645"/>
<rect x="1181" y="413" width="1" height="12" fill="#5b33b3"/>
<rect x="1180" y="417" width="3" height="8" fill="#0c2f2a"/>
<rect x="1181" y="418" width="1" height="6" fill="#5a34b0"/>
<rect x="1187" y="411" width="1" height="12" fill="#5b33b3"/>
<rect x="1186" y="414" width="3" height="4" fill="#0c2f2a"/>
<rect x="1187" y="415" width="1" height="2" fill="#5a34b0"/>
<rect x="1193" y="384" width="1" height="50" fill="#f23645"/>
<rect x="1192" y="414" width="3" height="11" fill="#f23645"/>
<rect x="1198" y="415" width="1" height="30" fill="#5b33b3"/>
<rect x="1197" y="422" width="3" height="3" fill="#0c2f2a"/>
<rect x="1198" y="423" width="1" height="1" fill="#5a34b0"/>
<rect x="1204" y="394" width="1" height="30" fill="#5b33b3"/>
<rect x="1203" y="412" width="3" height="12" fill="#0c2f2a"/>
<rect x="1204" y="413" width="1" height="10" fill="#5a34b0"/>
<rect x="1210" y="405" width="1" height="23" fill="#5b33b3"/>
<rect x="1209" y="410" width="3" height="3" fill="#0c2f2a"/>
<rect x="1210" y="411" width="1" height="1" fill="#5a34b0"/>
<rect x="1215" y="391" width="1" height="21" fill="#5b33b3"/>
<rect x="1214" y="401" width="3" height="10" fill="#0c2f2a"/>
<rect x="1215" y="402" width="1" height="8" fill="#5a34b0"/>
<rect x="1221" y="389" width="1" height="16" fill="#5b33b3"/>
<rect x="1220" y="394" width="3" height="8" fill="#0c2f2a"/>
<rect x="1221" y="395" width="1" height="6" fill="#5a34b0"/>
<rect x="1227" y="383" width="1" height="11" fill="#5b33b3"/>
<rect x="1226" y="387" width="3" height="7" fill="#0c2f2a"/>
<rect x="1227" y="388" width="1" height="5" fill="#5a34b0"/>
<rect x="1232" y="380" width="1" height="18" fill="#f23645"/>
<rect x="1231" y="387" width="3" height="11" fill="#f23645"/>
<rect x="1238" y="395" width="1" height="8" fill="#5b33b3"/>
<rect x="1237" y="397" width="3" height="1" fill="#0c2f2a"/>
</g>
<line x1="0" y1="397.5" x2="1753" y2="397.5" stroke="#5b33b3" stroke-width="1" stroke-dasharray="1 2" shape-rendering="crispEdges"/>
<text x="492.5" y="107.8" text-anchor="end" font-family="Liberation Sans, sans-serif" font-size="10.1" fill="#f23645" stroke="#f23645" stroke-width="0.15" textLength="17.6" lengthAdjust="spacingAndGlyphs">FVG</text>
<text x="549.8" y="147.1" text-anchor="end" font-family="Liberation Sans, sans-serif" font-size="10.1" fill="#f23645" stroke="#f23645" stroke-width="0.15" textLength="17.6" lengthAdjust="spacingAndGlyphs">FVG</text>
<text x="594.3" y="160.2" text-anchor="end" font-family="Liberation Sans, sans-serif" font-size="10.1" fill="#f23645" stroke="#f23645" stroke-width="0.15" textLength="17.6" lengthAdjust="spacingAndGlyphs">FVG</text>
<text x="763.7" y="197.2" text-anchor="end" font-family="Liberation Sans, sans-serif" font-size="10.1" fill="#f23645" stroke="#f23645" stroke-width="0.15" textLength="17.6" lengthAdjust="spacingAndGlyphs">FVG</text>
<text x="769.7" y="240.1" text-anchor="end" font-family="Liberation Sans, sans-serif" font-size="10.1" fill="#f23645" stroke="#f23645" stroke-width="0.15" textLength="17.6" lengthAdjust="spacingAndGlyphs">FVG</text>
<text x="831.7" y="250.0" text-anchor="end" font-family="Liberation Sans, sans-serif" font-size="10.1" fill="#f23645" stroke="#f23645" stroke-width="0.15" textLength="17.6" lengthAdjust="spacingAndGlyphs">FVG</text>
<text x="848.7" y="282.9" text-anchor="end" font-family="Liberation Sans, sans-serif" font-size="10.1" fill="#f23645" stroke="#f23645" stroke-width="0.15" textLength="17.6" lengthAdjust="spacingAndGlyphs">FVG</text>
<text x="854.7" y="306.2" text-anchor="end" font-family="Liberation Sans, sans-serif" font-size="10.1" fill="#f23645" stroke="#f23645" stroke-width="0.15" textLength="17.6" lengthAdjust="spacingAndGlyphs">FVG</text>
<text x="1125.7" y="360.1" text-anchor="end" font-family="Liberation Sans, sans-serif" font-size="10.1" fill="#f23645" stroke="#f23645" stroke-width="0.15" textLength="17.6" lengthAdjust="spacingAndGlyphs">FVG</text>
<text x="1142.8" y="365.7" text-anchor="end" font-family="Liberation Sans, sans-serif" font-size="10.1" fill="#f23645" stroke="#f23645" stroke-width="0.15" textLength="17.6" lengthAdjust="spacingAndGlyphs">FVG</text>
<text x="1182.8" y="381.0" text-anchor="end" font-family="Liberation Sans, sans-serif" font-size="10.1" fill="#f23645" stroke="#f23645" stroke-width="0.15" textLength="17.6" lengthAdjust="spacingAndGlyphs">FVG</text>
<text x="1323.2" y="397.9" text-anchor="end" font-family="Liberation Sans, sans-serif" font-size="10.1" fill="#f23645" stroke="#f23645" stroke-width="0.15" textLength="17.6" lengthAdjust="spacingAndGlyphs">FVG</text>
<text x="1244.6" y="452.0" text-anchor="end" font-family="Liberation Sans, sans-serif" font-size="10.1" fill="#2962ff" stroke="#2962ff" stroke-width="0.15" textLength="17.6" lengthAdjust="spacingAndGlyphs">FVG</text>
<path d="M390.1,42.2 H400.9 V52.2 H406.0 L395.5,63.800000000000004 L385.0,52.2 H390.1 Z" fill="#c62a3c"/>
<path d="M667.2,127.2 H678.0 V137.2 H683.1 L672.6,148.8 L662.1,137.2 H667.2 Z" fill="#c62a3c"/>
<path d="M1278.1999999999998,292.3 H1289.0 V302.3 H1294.1 L1283.6,313.90000000000003 L1273.1,302.3 H1278.1999999999998 Z" fill="#c62a3c"/>
<g fill="none" stroke="#2962ff" stroke-width="3" stroke-linecap="round" stroke-dasharray="2.8 6.2">
<path d="M173.4,347.7 Q294.2,441.1 412.3,194"/>
<path d="M394.4,199.6 L412.3,194 L419.6,214"/>
</g>
<g fill="none" stroke="#e2185f" stroke-width="2.7" stroke-linecap="round" stroke-dasharray="3 5.7">
<path d="M615.6,222.4 Q622.4,398.6 786.2,436.9"/>
<path d="M776.2,421.6 L786.2,436.9 L766.8,448.6"/>
</g>
<g fill="none" stroke="#e2185f" stroke-width="2" stroke-linecap="round" stroke-linejoin="round">
<path d="M1220.7,429.1 C1297.1,203.5 1354.5,505.3 1350.9,506.2"/>
<path d="M1339,498.7 L1350.9,506.2 L1358.9,494.1"/>
</g>
<text x="1316" y="536.5" font-family="Liberation Sans, sans-serif" font-size="18.5" font-weight="bold" font-style="italic" fill="#000">85 000$</text>
<circle cx="1238.5" cy="608.3" r="10.6" fill="#fff"/>
<circle cx="1238.5" cy="608.3" r="9.7" fill="#fff" stroke="#9c27b0" stroke-width="1.5"/>
<path d="M1241.8,603 L1234.3,608.6 H1237.8 L1235,613.8 L1242.7,607.8 H1239.2 Z" fill="#9c27b0"/>
</g>
<rect x="0" y="621" width="1815" height="1" fill="#eae8e0"/>
<rect x="0" y="650.5" width="1753" height="68" fill="#7e57c2" fill-opacity="0.1"/>
<polygon points="209.9,650.5 214.5,644.4 215.8,650.5" fill="url(#gg)"/>
<polygon points="310.0,650.5 310.5,648.4 313.1,650.5" fill="url(#gg)"/>
<polygon points="318.1,650.5 322.5,643.4 327.5,646.2 333.5,636.4 339.5,639.3 344.5,636.7 350.3,650.5" fill="url(#gg)"/>
<polygon points="352.3,650.5 356.5,649.3 358.5,650.5" fill="url(#gg)"/>
<polygon points="375.4,650.5 378.5,641.1 384.5,639.6 390.5,637.7 395.5,636.0 401.5,649.7 402.1,650.5" fill="url(#gg)"/>
<polygon points="672.0,718.5 672.5,722.9 678.5,733.1 684.5,729.4 689.5,731.3 695.5,721.4 698.3,718.5" fill="url(#rg)"/>
<polygon points="750.3,718.5 751.5,719.9 757.5,729.4 763.5,734.3 768.5,735.5 774.5,728.5 780.5,731.3 785.5,734.6 791.5,741.2 797.5,741.6 802.5,743.7 808.5,748.5 814.5,731.7 819.5,719.9 820.3,718.5" fill="url(#rg)"/>
<polygon points="838.0,718.5 842.5,720.3 848.5,721.7 849.0,718.5" fill="url(#rg)"/>
<polygon points="1132.0,718.5 1136.5,729.6 1142.5,727.2 1147.5,724.3 1148.9,718.5" fill="url(#rg)"/>
<g stroke="#787b86" stroke-width="1" stroke-dasharray="5 6" shape-rendering="crispEdges">
<line x1="0" y1="650.5" x2="1753" y2="650.5"/><line x1="0" y1="718.5" x2="1753" y2="718.5"/>
</g>
<polyline points="-0.5,689.6 5.5,686.5 11.5,689.0 16.5,695.3 22.5,701.4 28.5,698.5 33.5,694.7 39.5,683.3 45.5,678.5 50.5,697.2 56.5,693.4 62.5,691.5 67.5,690.5 73.5,691.8 78.5,692.4 84.5,690.5 90.5,688.1 95.5,689.0 101.5,690.9 107.5,690.5 112.5,693.7 118.5,691.2 124.5,694.1 129.5,694.5 135.5,689.6 141.5,685.2 146.5,683.6 152.5,686.7 158.5,685.6 163.5,685.8 169.5,679.9 175.5,679.5 180.5,674.4 186.5,687.7 192.5,685.2 197.5,673.2 203.5,660.5 209.5,651.0 214.5,644.4 220.5,671.9 226.5,691.9 231.5,693.4 237.5,693.2 242.5,668.3 248.5,671.3 254.5,665.3 259.5,683.7 265.5,679.8 271.5,682.3 276.5,676.3 282.5,668.5 288.5,667.7 293.5,662.0 299.5,669.4 305.5,667.8 310.5,648.4 316.5,653.1 322.5,643.4 327.5,646.2 333.5,636.4 339.5,639.3 344.5,636.7 350.5,651.0 356.5,649.3 361.5,652.2 367.5,658.8 373.5,656.1 378.5,641.1 384.5,639.6 390.5,637.7 395.5,636.0 401.5,649.7 407.5,658.2 412.5,666.6 418.5,661.8 423.5,659.2 429.5,655.8 435.5,664.0 440.5,661.4 446.5,663.7 452.5,665.8 457.5,684.3 463.5,683.3 469.5,683.0 474.5,682.3 480.5,687.4 486.5,681.7 491.5,682.0 497.5,683.3 503.5,686.9 508.5,686.5 514.5,701.9 520.5,691.2 525.5,692.8 531.5,682.4 537.5,681.4 542.5,684.6 548.5,685.5 554.5,686.9 559.5,691.2 565.5,687.1 571.5,685.6 576.5,682.3 582.5,679.1 587.5,685.2 593.5,687.1 599.5,686.9 604.5,691.9 610.5,696.6 616.5,688.4 621.5,688.4 627.5,692.8 633.5,685.2 638.5,688.4 644.5,688.8 650.5,690.3 655.5,683.9 661.5,679.5 667.5,677.6 672.5,722.9 678.5,733.1 684.5,729.4 689.5,731.3 695.5,721.4 701.5,715.3 706.5,710.7 712.5,713.5 718.5,711.8 723.5,706.5 729.5,708.8 735.5,710.7 740.5,717.9 746.5,714.2 751.5,719.9 757.5,729.4 763.5,734.3 768.5,735.5 774.5,728.5 780.5,731.3 785.5,734.6 791.5,741.2 797.5,741.6 802.5,743.7 808.5,748.5 814.5,731.7 819.5,719.9 825.5,709.2 831.5,716.1 836.5,717.9 842.5,720.3 848.5,721.7 853.5,690.2 859.5,712.6 865.5,685.2 870.5,686.4 876.5,692.8 882.5,686.6 887.5,688.5 893.5,687.5 899.5,689.4 904.5,686.6 910.5,687.8 915.5,692.0 921.5,698.3 927.5,690.7 932.5,687.5 938.5,693.9 944.5,690.1 949.5,684.4 955.5,684.6 961.5,689.2 966.5,690.1 972.5,697.7 978.5,694.2 983.5,690.7 989.5,684.0 995.5,672.1 1000.5,681.8 1006.5,690.7 1012.5,686.6 1017.5,687.9 1023.5,684.4 1029.5,684.1 1034.5,687.1 1040.5,687.5 1046.5,687.5 1051.5,691.3 1057.5,693.6 1063.5,691.1 1068.5,692.0 1074.5,690.7 1079.5,694.2 1085.5,695.8 1091.5,700.6 1096.5,699.8 1102.5,707.2 1108.5,712.2 1113.5,705.9 1119.5,694.5 1125.5,703.4 1130.5,714.8 1136.5,729.6 1142.5,727.2 1147.5,724.3 1153.5,699.2 1159.5,705.0 1164.5,693.6 1170.5,690.4 1176.5,695.5 1181.5,691.6 1187.5,689.4 1193.5,694.9 1198.5,693.9 1204.5,687.1 1210.5,685.6 1215.5,679.7 1221.5,675.5 1227.5,671.4 1232.5,679.5 1238.5,678.7" fill="none" stroke="#131313" stroke-width="1.1" stroke-linejoin="round"/>
<text x="8.5" y="645" font-family="Liberation Sans, sans-serif" font-size="13" fill="#101114">RSI</text>
<g font-family="Liberation Sans, sans-serif" font-size="12" fill="#101114">
<text x="1762" y="44.2" textLength="36" lengthAdjust="spacingAndGlyphs">99,000</text>
<text x="1762" y="77.7" textLength="36" lengthAdjust="spacingAndGlyphs">98,000</text>
<text x="1762" y="111.2" textLength="36" lengthAdjust="spacingAndGlyphs">97,000</text>
<text x="1762" y="144.7" textLength="36" lengthAdjust="spacingAndGlyphs">96,000</text>
<text x="1762" y="178.2" textLength="36" lengthAdjust="spacingAndGlyphs">95,000</text>
<text x="1762" y="211.7" textLength="36" lengthAdjust="spacingAndGlyphs">94,000</text>
<text x="1762" y="245.2" textLength="36" lengthAdjust="spacingAndGlyphs">93,000</text>
<text x="1762" y="278.7" textLength="36" lengthAdjust="spacingAndGlyphs">92,000</text>
<text x="1762" y="312.2" textLength="36" lengthAdjust="spacingAndGlyphs">91,000</text>
<text x="1762" y="345.7" textLength="36" lengthAdjust="spacingAndGlyphs">90,000</text>
<text x="1762" y="379.2" textLength="36" lengthAdjust="spacingAndGlyphs">89,000</text>
<text x="1762" y="412.7" textLength="36" lengthAdjust="spacingAndGlyphs">88,000</text>
<text x="1762" y="446.2" textLength="36" lengthAdjust="spacingAndGlyphs">87,000</text>
<text x="1762" y="479.7" textLength="36" lengthAdjust="spacingAndGlyphs">86,000</text>
<text x="1762" y="513.2" textLength="36" lengthAdjust="spacingAndGlyphs">85,000</text>
<text x="1762" y="546.7" textLength="36" lengthAdjust="spacingAndGlyphs">84,000</text>
<text x="1762" y="580.2" textLength="36" lengthAdjust="spacingAndGlyphs">83,000</text>
<text x="1762" y="613.7" textLength="36" lengthAdjust="spacingAndGlyphs">82,000</text>
<text x="1762" y="636.8" textLength="30" lengthAdjust="spacingAndGlyphs">80.00</text>
<text x="1762" y="670.7" textLength="30" lengthAdjust="spacingAndGlyphs">60.00</text>
<text x="1762" y="704.7" textLength="30" lengthAdjust="spacingAndGlyphs">40.00</text>
<text x="1762" y="738.7" textLength="30" lengthAdjust="spacingAndGlyphs">20.00</text>
</g>
<rect x="1757" y="4" width="54" height="26" rx="4" fill="#fff"/>
<text x="1766" y="21" font-family="Liberation Sans, sans-serif" font-size="11" fill="#101114" textLength="20.5" lengthAdjust="spacingAndGlyphs">USD</text>
<path d="M1754,389 H1801 Q1803,389 1803,391 V404 Q1803,406 1801,406 H1754 Z" fill="#673ab7"/>
<text x="1762" y="401.2" font-family="Liberation Sans, sans-serif" font-size="12" fill="#fff" stroke="#fff" stroke-width="0.4" textLength="36" lengthAdjust="spacingAndGlyphs">88,372</text>
<path d="M1754,671 H1795 Q1797,671 1797,673 V686 Q1797,688 1795,688 H1754 Z" fill="#000"/>
<text x="1762" y="683.6" font-family="Liberation Sans, sans-serif" font-size="12" fill="#fff" stroke="#fff" stroke-width="0.4" textLength="30" lengthAdjust="spacingAndGlyphs">52.92</text>
<g font-family="Liberation Sans, sans-serif" font-size="12" fill="#101114" text-anchor="middle">
<text x="50.1" y="779.2" textLength="12.2" lengthAdjust="spacingAndGlyphs">10</text>
<text x="118.0" y="779.2" textLength="12.2" lengthAdjust="spacingAndGlyphs">11</text>
<text x="185.8" y="779.2" textLength="12.2" lengthAdjust="spacingAndGlyphs">12</text>
<text x="253.7" y="779.2" textLength="12.2" lengthAdjust="spacingAndGlyphs">13</text>
<text x="321.6" y="779.2" textLength="12.2" lengthAdjust="spacingAndGlyphs">14</text>
<text x="389.4" y="779.2" textLength="12.2" lengthAdjust="spacingAndGlyphs">15</text>
<text x="457.3" y="779.2" textLength="12.2" lengthAdjust="spacingAndGlyphs">16</text>
<text x="525.2" y="779.2" textLength="12.2" lengthAdjust="spacingAndGlyphs">17</text>
<text x="593.0" y="779.2" textLength="12.2" lengthAdjust="spacingAndGlyphs">18</text>
<text x="660.9" y="779.2" textLength="12.2" lengthAdjust="spacingAndGlyphs">19</text>
<text x="728.8" y="779.2" textLength="12.2" lengthAdjust="spacingAndGlyphs">20</text>
<text x="796.6" y="779.2" textLength="12.2" lengthAdjust="spacingAndGlyphs">21</text>
<text x="864.5" y="779.2" textLength="12.2" lengthAdjust="spacingAndGlyphs">22</text>
<text x="932.4" y="779.2" textLength="12.2" lengthAdjust="spacingAndGlyphs">23</text>
<text x="1000.2" y="779.2" textLength="12.2" lengthAdjust="spacingAndGlyphs">24</text>
<text x="1068.1" y="779.2" textLength="12.2" lengthAdjust="spacingAndGlyphs">25</text>
<text x="1136.0" y="779.2" textLength="12.2" lengthAdjust="spacingAndGlyphs">26</text>
<text x="1203.8" y="779.2" textLength="12.2" lengthAdjust="spacingAndGlyphs">27</text>
<text x="1271.7" y="779.2" textLength="12.2" lengthAdjust="spacingAndGlyphs">28</text>
<text x="1339.6" y="779.2" textLength="12.2" lengthAdjust="spacingAndGlyphs">29</text>
<text x="1407.4" y="779.2" textLength="12.2" lengthAdjust="spacingAndGlyphs">30</text>
<text x="1475.3" y="779.2" textLength="12.2" lengthAdjust="spacingAndGlyphs">31</text>
<text x="1543.7" y="778.6" font-weight="bold" font-size="11.5" font-family="Liberation Sans, DejaVu Sans, sans-serif" textLength="24.5" lengthAdjust="spacingAndGlyphs">فبراير</text>
<text x="1611.0" y="779.2" textLength="6.1" lengthAdjust="spacingAndGlyphs">2</text>
<text x="1678.9" y="779.2" textLength="6.1" lengthAdjust="spacingAndGlyphs">3</text>
<text x="1746.8" y="779.2" textLength="6.1" lengthAdjust="spacingAndGlyphs">4</text>
</g>
</svg>
<div class="ttl" style="top:10px">Bitstamp · <span class="ar" lang="ar" style="margin-left:-2px">بيتكوين/ دولار أمريكي</span> · 2<span class="ar" lang="ar">ساعة</span></div>
<div class="ttl" style="top:27px">FVG/iFVG (Nephew_Sam_)</div>
</body></html>
